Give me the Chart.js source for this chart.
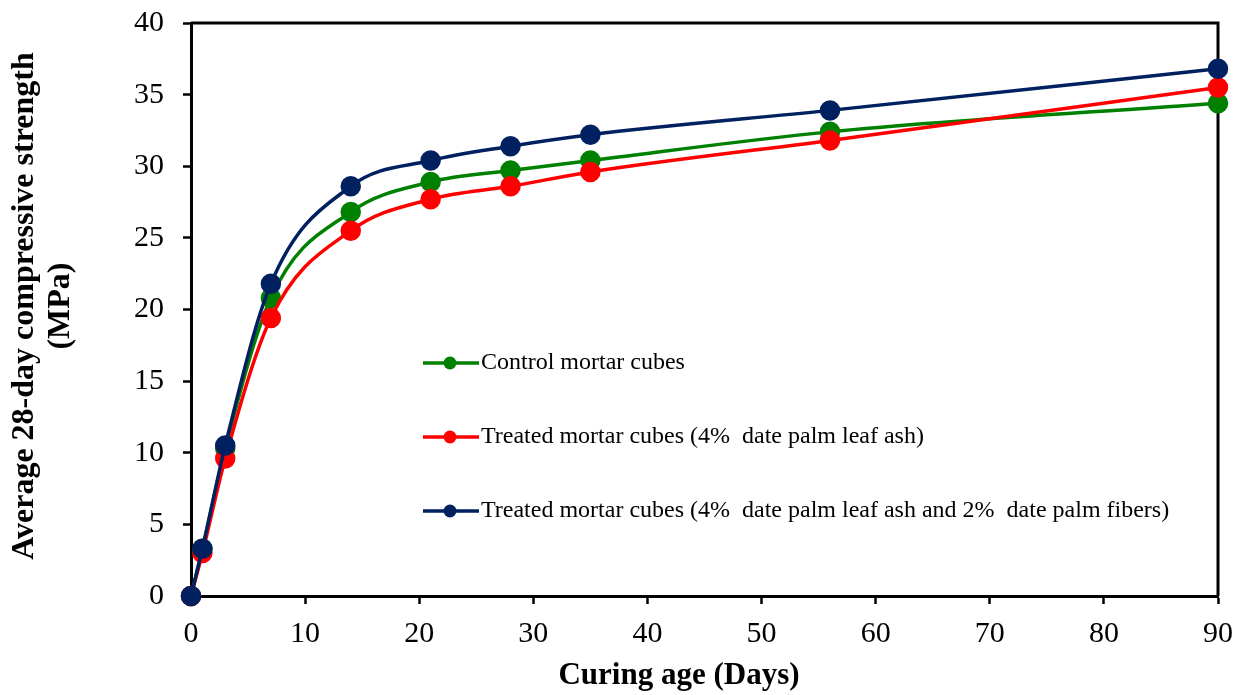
<!DOCTYPE html>
<html>
<head>
<meta charset="utf-8">
<script src="https://cdn.jsdelivr.net/npm/chart.js@4"></script>
<style>
  html, body { margin: 0; padding: 0; background: #fff; }
  #wrap { width: 1244px; height: 695px; }
</style>
</head>
<body>
<div id="wrap"><canvas id="chart" width="1244" height="695"></canvas></div>
<script>
// Curing age (days) and average compressive strength (MPa)
const days = [0, 1, 3, 7, 14, 21, 28, 35, 56, 90]
const control = [0, 3.3, 10.3, 20.8, 26.8, 28.9, 29.7, 30.4, 32.4, 34.4]
const leafAsh = [0, 3.0, 9.6, 19.4, 25.5, 27.7, 28.6, 29.6, 31.8, 35.5]
const leafAshFibers = [0, 3.3, 10.5, 21.8, 28.6, 30.4, 31.4, 32.2, 33.9, 36.8]

const seriesLabels = [
  'Control mortar cubes',
  'Treated mortar cubes (4%  date palm leaf ash)',
  'Treated mortar cubes (4%  date palm leaf ash and 2%  date palm fibers)'
]
const seriesColors = ['#008000', '#FF0000', '#002060']

const yTitle = ['Average 28-day compressive strength', '(MPa)']
const xTitle = 'Curing age (Days)'

const serif = "'Liberation Serif', 'Times New Roman', serif"

const toPoints = (vals) => days.map((d, i) => ({ x: d, y: vals[i] }))

// top and right border of the plot frame, drawn under the markers
const framePlugin = {
  id: 'frame',
  beforeDatasetsDraw(chart) {
    const { ctx, chartArea: a } = chart
    ctx.save()
    ctx.strokeStyle = '#000'
    ctx.lineWidth = 3
    ctx.beginPath()
    ctx.moveTo(a.left, a.top)
    ctx.lineTo(a.right, a.top)
    ctx.lineTo(a.right, a.bottom)
    ctx.stroke()
    ctx.restore()
  }
}

// legend placed inside the plot, like the original
const legendPlugin = {
  id: 'innerLegend',
  afterDraw(chart) {
    const { ctx, chartArea: a } = chart
    const x0 = a.left + 232
    const rows = [a.top + 340, a.top + 414, a.top + 488]
    ctx.save()
    seriesLabels.forEach((label, i) => {
      const y = rows[i]
      ctx.strokeStyle = seriesColors[i]
      ctx.fillStyle = seriesColors[i]
      ctx.lineWidth = 3.5
      ctx.beginPath()
      ctx.moveTo(x0, y)
      ctx.lineTo(x0 + 56, y)
      ctx.stroke()
      ctx.beginPath()
      ctx.arc(x0 + 27, y, 6.5, 0, Math.PI * 2)
      ctx.fill()
      ctx.fillStyle = '#000'
      ctx.font = '24px ' + serif
      ctx.textBaseline = 'middle'
      ctx.fillText(label, x0 + 58, y)
    })
    ctx.restore()
  }
}

// axis titles
const titlePlugin = {
  id: 'axisTitles',
  afterDraw(chart) {
    const { ctx } = chart
    ctx.save()
    ctx.fillStyle = '#000'
    ctx.textAlign = 'center'
    ctx.textBaseline = 'middle'
    ctx.font = 'bold 31px ' + serif
    ctx.fillText(xTitle, 679, 676)
    ctx.font = 'bold 32px ' + serif
    ctx.translate(0, 306)
    ctx.rotate(-Math.PI / 2)
    ctx.fillText(yTitle[0], 0, 25)
    ctx.fillText(yTitle[1], 0, 61)
    ctx.restore()
  }
}

const makeSet = (label, vals, color, order) => ({
  label: label,
  data: toPoints(vals),
  borderColor: color,
  backgroundColor: color,
  pointBackgroundColor: color,
  pointBorderColor: color,
  borderWidth: 3.5,
  pointRadius: 8.5,
  pointHoverRadius: 8.5,
  cubicInterpolationMode: 'monotone',
  clip: false,
  order: order
})

new Chart(document.getElementById('chart'), {
  type: 'line',
  data: {
    datasets: [
      makeSet(seriesLabels[2], leafAshFibers, seriesColors[2], 0),
      makeSet(seriesLabels[1], leafAsh, seriesColors[1], 1),
      makeSet(seriesLabels[0], control, seriesColors[0], 2)
    ]
  },
  options: {
    responsive: false,
    animation: false,
    layout: { padding: { top: 23, right: 26, left: 0, bottom: 0 } },
    plugins: {
      legend: { display: false },
      tooltip: { enabled: false }
    },
    scales: {
      x: {
        type: 'linear',
        min: 0,
        max: 90,
        afterFit: (scale) => {
          scale.height = 99
          scale.paddingLeft = 0
          scale.paddingRight = 0
        },
        border: { color: '#000', width: 3 },
        grid: { drawOnChartArea: false, drawTicks: true, tickLength: 8, tickWidth: 2.5, tickColor: '#000' },
        ticks: {
          stepSize: 10,
          color: '#000',
          padding: 12,
          maxRotation: 0,
          font: { family: serif, size: 30 }
        }
      },
      y: {
        min: 0,
        max: 40,
        afterFit: (scale) => {
          scale.width = 191
          scale.paddingTop = 0
          scale.paddingBottom = 0
        },
        border: { color: '#000', width: 3 },
        grid: { drawOnChartArea: false, drawTicks: true, tickLength: 8, tickWidth: 2.5, tickColor: '#000' },
        ticks: {
          stepSize: 5,
          color: '#000',
          padding: 19,
          font: { family: serif, size: 30 }
        }
      }
    }
  },
  plugins: [framePlugin, legendPlugin, titlePlugin]
})
</script>
</body>
</html>
